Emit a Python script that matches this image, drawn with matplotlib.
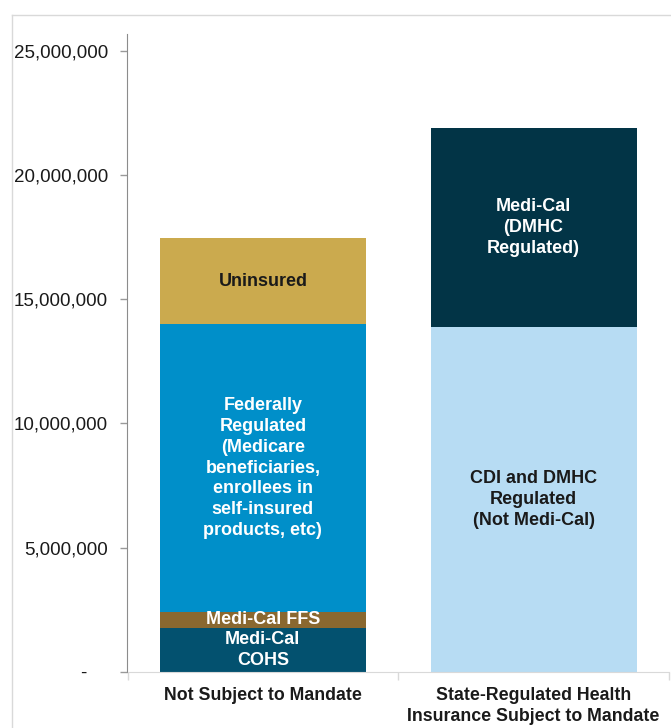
import matplotlib
matplotlib.use("Agg")
import matplotlib.pyplot as plt
from matplotlib.ticker import FuncFormatter, FixedLocator
from matplotlib.lines import Line2D

plt.rcParams['font.family'] = ['Liberation Sans', 'DejaVu Sans']

# Données (nombre de personnes)
categories = ["Not Subject to Mandate", "State-Regulated Health\nInsurance Subject to Mandate"]

# Barre de gauche, de bas en haut
left_labels = ["Medi-Cal\nCOHS", "Medi-Cal FFS",
               "Federally\nRegulated\n(Medicare\nbeneficiaries,\nenrollees in\nself-insured\nproducts, etc)",
               "Uninsured"]
left_values = [1780000, 630000, 11590000, 3460000]
left_colors = ["#03516F", "#8A6830", "#008FC9", "#CBAA4E"]
left_text = ["white", "white", "white", "#1A1A1A"]

# Barre de droite, de bas en haut
right_labels = ["CDI and DMHC\nRegulated\n(Not Medi-Cal)", "Medi-Cal\n(DMHC\nRegulated)"]
right_values = [13900000, 7990000]
right_colors = ["#B7DCF3", "#023446"]
right_text = ["#1A1A1A", "white"]

yticks = [0, 5000000, 10000000, 15000000, 20000000, 25000000]

W, H = 671, 728
fig = plt.figure(figsize=(W / 100, H / 100), dpi=100)
ax = fig.add_axes([127.5 / W, 1 - 672 / H, (669 - 127.5) / W, (672 - 34) / H])


def draw_stack(x, values, labels, colors, tcolors):
    bottom = 0
    for v, lab, c, tc in zip(values, labels, colors, tcolors):
        ax.bar(x, v, bottom=bottom, width=0.76, color=c, linewidth=0)
        ax.text(x, bottom + v / 2, lab, ha='center', va='center', color=tc,
                fontsize=13, fontweight='bold', linespacing=1.3)
        bottom += v


draw_stack(0, left_values, left_labels, left_colors, left_text)
draw_stack(1, right_values, right_labels, right_colors, right_text)

ax.set_xlim(-0.5, 1.5)
ax.set_ylim(0, 25670000)

# Axe Y (format comptable : zéro affiché comme un tiret)
ax.yaxis.set_major_locator(FixedLocator(yticks))
ax.yaxis.set_major_formatter(FuncFormatter(lambda v, p: "-    " if v == 0 else f"{v:,.0f}"))
ax.tick_params(axis='y', direction='out', length=5, width=1, color='#9a9a9a',
               labelsize=13.5, labelcolor='#1A1A1A', pad=9)

# Axe X : graduations aux limites des catégories
ax.set_xticks([-0.5, 0.5, 1.5])
ax.set_xticklabels([])
ax.tick_params(axis='x', direction='out', length=6, width=1, color='#d9d9d9')
for i, cat in enumerate(categories):
    ax.text(i, -0.024, cat, transform=ax.get_xaxis_transform(), ha='center', va='top',
            fontsize=12.8, fontweight='bold', color='#1A1A1A', linespacing=1.3)

for s in ['top', 'right']:
    ax.spines[s].set_visible(False)
ax.spines['left'].set_color('#8c8c8c')
ax.spines['bottom'].set_color('#d9d9d9')

# Cadre extérieur
fig.add_artist(Line2D([12 / W, 12 / W], [0, 1 - 15 / H], transform=fig.transFigure,
                      color='#d9d9d9', lw=1))
fig.add_artist(Line2D([12 / W, 1], [1 - 15 / H, 1 - 15 / H], transform=fig.transFigure,
                      color='#d9d9d9', lw=1))

fig.savefig("out.png", dpi=100)
